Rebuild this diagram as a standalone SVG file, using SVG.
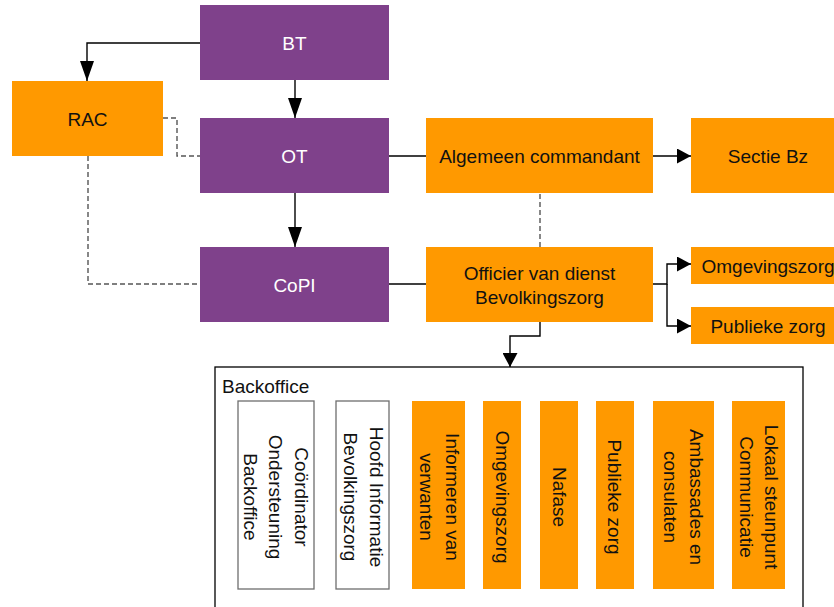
<svg xmlns="http://www.w3.org/2000/svg" width="834" height="607" viewBox="0 0 834 607">
<style>
text{font-family:"Liberation Sans",Arial,sans-serif;font-size:19px;fill:#111}
.c{text-anchor:middle}
.w{fill:#fff}
.p{fill:#7f418b}
.o{fill:#ff9900}
.wb{fill:#fff;stroke:#6e6e6e;stroke-width:1.3}
.ln{fill:none;stroke:#000;stroke-width:1.4}
.ds{fill:none;stroke:#555;stroke-width:1.4;stroke-dasharray:5 3}
</style>
<defs>
<marker id="ab" markerUnits="userSpaceOnUse" markerWidth="20" markerHeight="14" refX="20" refY="7" orient="auto"><path d="M0,0 L20,7 L0,14 z" fill="#000"/></marker>
<marker id="as" markerUnits="userSpaceOnUse" markerWidth="14" markerHeight="15" refX="14" refY="7.5" orient="auto"><path d="M0,0 L14,7.5 L0,15 z" fill="#000"/></marker>
</defs>
<g id="connectors">
<path class="ln" d="M200,43 H87 V81" marker-end="url(#ab)"/>
<path class="ln" d="M295,80 V118" marker-end="url(#ab)"/>
<path class="ln" d="M295,193 V247" marker-end="url(#ab)"/>
<path class="ds" d="M163,118 H177 V156 H200"/>
<path class="ds" d="M88,156 V284 H200"/>
<path class="ln" d="M389,156 H426"/>
<path class="ln" d="M653,156 H691" marker-end="url(#as)"/>
<path class="ds" d="M540,194 V247"/>
<path class="ln" d="M389,284 H426"/>
<path class="ln" d="M653,284 H667 V264 H691" marker-end="url(#as)"/>
<path class="ln" d="M667,284 V326 H691" marker-end="url(#as)"/>
<path class="ln" d="M540,322 V336 H510 V367" marker-end="url(#as)"/>
</g>
<g id="BT"><rect class="p" x="200" y="5" width="189" height="75"/><text class="c w" x="294.5" y="50">BT</text></g>
<g id="RAC"><rect class="o" x="12" y="81" width="151" height="75"/><text class="c" x="87.5" y="126">RAC</text></g>
<g id="OT"><rect class="p" x="200" y="118" width="189" height="75"/><text class="c w" x="294.5" y="163">OT</text></g>
<g id="CoPI"><rect class="p" x="200" y="247" width="189" height="75"/><text class="c w" x="294.5" y="292">CoPI</text></g>
<g id="AC"><rect class="o" x="426" y="118" width="227" height="75"/><text class="c" x="539.5" y="163">Algemeen commandant</text></g>
<g id="SBz"><rect class="o" x="691" y="118" width="154" height="75"/><text class="c" x="768" y="163">Sectie Bz</text></g>
<g id="OvD"><rect class="o" x="426" y="247" width="227" height="75"/><text class="c" x="539.5" y="280">Officier van dienst</text><text class="c" x="539.5" y="304">Bevolkingszorg</text></g>
<g id="Omg"><rect class="o" x="691" y="247" width="154" height="37"/><text class="c" x="768" y="273">Omgevingszorg</text></g>
<g id="Pub"><rect class="o" x="691" y="307" width="154" height="37"/><text class="c" x="768" y="333">Publieke zorg</text></g>
<g id="Backoffice">
<rect x="215" y="367" width="588" height="260" fill="#fff" stroke="#000" stroke-width="1.3"/>
<text x="222" y="393">Backoffice</text>
</g>
<g id="B1"><rect class="wb" x="238" y="401" width="76" height="188"/>
<text class="c" transform="translate(295,497) rotate(90)">Coördinator</text>
<text class="c" transform="translate(269,497) rotate(90)">Ondersteuning</text>
<text class="c" transform="translate(243.5,497) rotate(90)">Backoffice</text></g>
<g id="B2"><rect class="wb" x="336" y="401" width="53" height="188"/>
<text class="c" transform="translate(370,497) rotate(90)">Hoofd Informatie</text>
<text class="c" transform="translate(344,497) rotate(90)">Bevolkingszorg</text></g>
<g id="B3"><rect class="o" x="412" y="401" width="53" height="188"/>
<text class="c" transform="translate(446,497) rotate(90)">Informeren van</text>
<text class="c" transform="translate(420,497) rotate(90)">verwanten</text></g>
<g id="B4"><rect class="o" x="483" y="401" width="38" height="188"/>
<text class="c" transform="translate(495.5,497) rotate(90)">Omgevingszorg</text></g>
<g id="B5"><rect class="o" x="540" y="401" width="38" height="188"/>
<text class="c" transform="translate(553,497) rotate(90)">Nafase</text></g>
<g id="B6"><rect class="o" x="596" y="401" width="38" height="188"/>
<text class="c" transform="translate(608,497) rotate(90)">Publieke zorg</text></g>
<g id="B7"><rect class="o" x="653" y="401" width="61" height="188"/>
<text class="c" transform="translate(689.5,497) rotate(90)">Ambassades en</text>
<text class="c" transform="translate(663.5,497) rotate(90)">consulaten</text></g>
<g id="B8"><rect class="o" x="732" y="401" width="53" height="188"/>
<text class="c" transform="translate(765,497) rotate(90)">Lokaal steunpunt</text>
<text class="c" transform="translate(740,497) rotate(90)">Communicatie</text></g>
</svg>
